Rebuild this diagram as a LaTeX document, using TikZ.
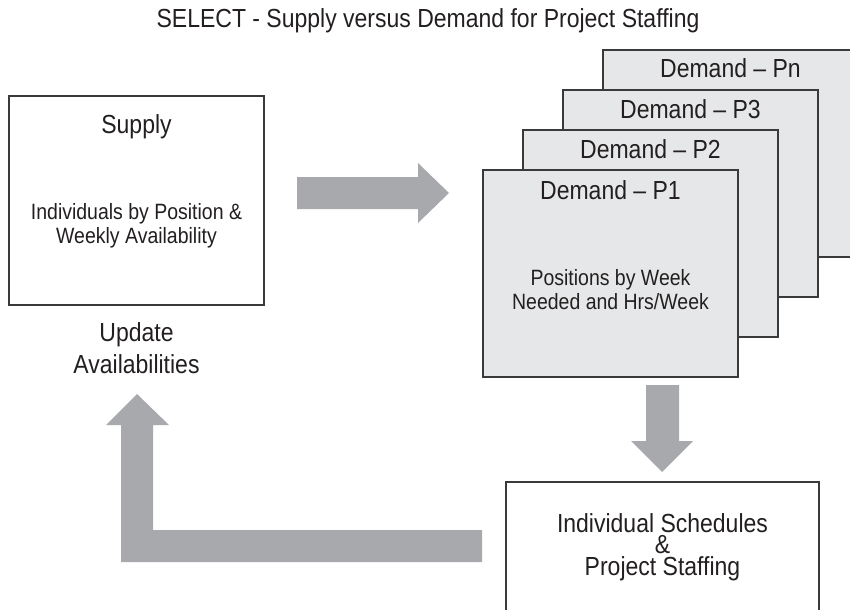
\documentclass[tikz,border=0pt]{standalone}
\usepackage{fontspec}
\setmainfont{Liberation Sans}[FakeStretch=0.88]
\definecolor{arrowgray}{HTML}{A7A9AC}
\definecolor{boxfill}{HTML}{E6E7E8}
\definecolor{linecol}{HTML}{3A3A3A}
\definecolor{txt}{HTML}{231F20}
\tikzset{
  box/.style={draw=linecol, line width=0.9pt, fill=white, inner sep=0pt, minimum width=191.25pt, minimum height=156.75pt},
  dbox/.style={draw=linecol, line width=0.9pt, fill=boxfill, inner sep=0pt, minimum width=191.25pt, minimum height=155.25pt},
  sbox/.style={draw=linecol, line width=0.9pt, fill=white, inner sep=0pt, minimum width=234.75pt, minimum height=106.5pt},
  bigtxt/.style={anchor=base, inner sep=0pt, text=txt, font=\fontsize{19.6pt}{22pt}\selectfont},
  smalltxt/.style={anchor=base, inner sep=0pt, text=txt, font=\fontsize{16.6pt}{18pt}\selectfont},
  blockarrow/.style={fill=arrowgray, draw=none}
}
\begin{document}
\begin{tikzpicture}[x=0.75pt, y=-0.75pt]
\useasboundingbox (0,0) rectangle (850,610);
\clip (0,0) rectangle (850,610);
% title
\node[bigtxt] (title) at (428,28) {SELECT - Supply versus Demand for Project Staffing};
% supply box
\node[box] (supply) at (136.5,200.5) {};
\node[bigtxt] (supplyt) at (136.5,133) {Supply};
\node[smalltxt] (supplya) at (136.5,219) {Individuals by Position \&};
\node[smalltxt] (supplyb) at (136.5,243) {Weekly Availability};
\node[bigtxt] (upd1) at (136.5,341) {Update};
\node[bigtxt] (upd2) at (136.5,373) {Availabilities};
% demand boxes
\node[dbox] (pn) at (730.5,153.5) {};
\node[bigtxt] (pnt) at (730.5,78) {Demand – Pn};
\node[dbox] (p3) at (690.5,193.5) {};
\node[bigtxt] (p3t) at (690.5,118) {Demand – P3};
\node[dbox] (p2) at (650.5,233.5) {};
\node[bigtxt] (p2t) at (650.5,158) {Demand – P2};
\node[dbox] (p1) at (610.5,273.5) {};
\node[bigtxt] (p1t) at (610.5,199) {Demand – P1};
\node[smalltxt] (p1a) at (610.5,285) {Positions by Week};
\node[smalltxt] (p1b) at (610.5,309) {Needed and Hrs/Week};
% schedules box
\node[sbox] (sched) at (662.5,553) {};
\node[anchor=center, inner sep=0pt, text=txt, align=center,
      font=\fontsize{19.6pt}{16.3pt}\selectfont] (scht) at (662.5,547)
      {Individual Schedules\\\&\\Project Staffing};
% block arrows
\fill[blockarrow] (297,177) -- (418,177) -- (418,163) -- (449,193) -- (418,223) -- (418,209) -- (297,209) -- cycle;
\fill[blockarrow] (646,385) -- (679,385) -- (679,441) -- (693,441) -- (662,472) -- (631,441) -- (646,441) -- cycle;
\fill[blockarrow] (482,530) -- (153,530) -- (153,425) -- (169,425) -- (137,394) -- (106,425) -- (121,425) -- (121,562) -- (482,562) -- cycle;
\end{tikzpicture}
\end{document}
